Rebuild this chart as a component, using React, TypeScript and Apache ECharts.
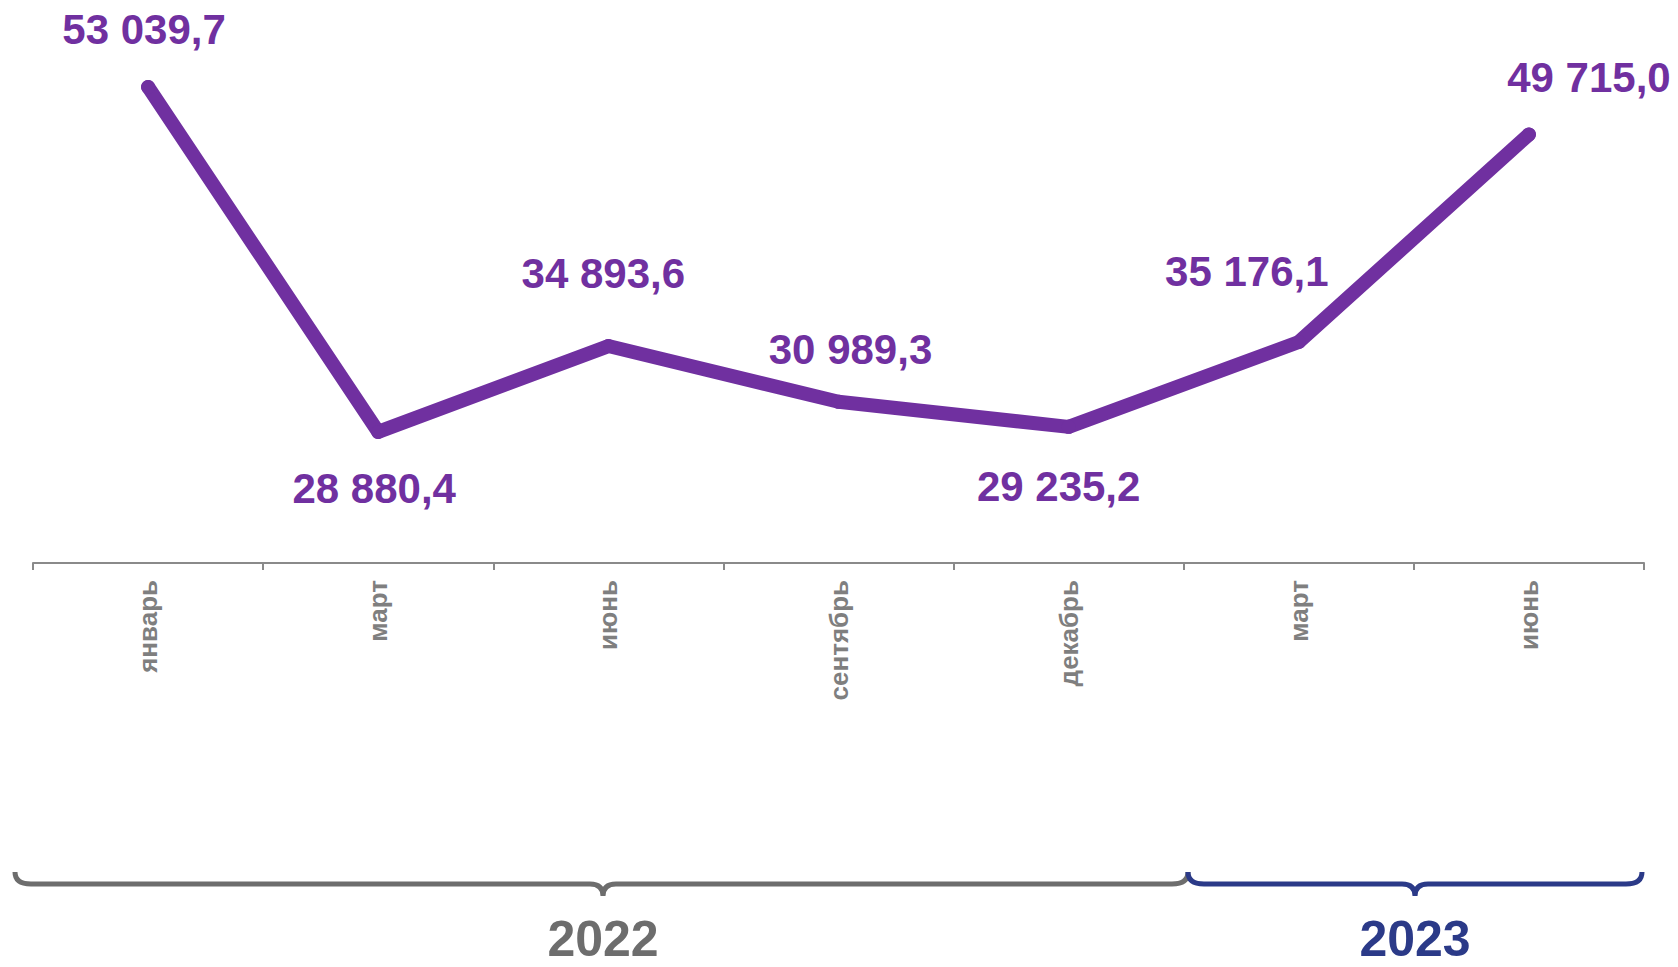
import React, { useEffect, useRef } from "react";
import * as echarts from "echarts";

const months: string[] = ["январь", "март", "июнь", "сентябрь", "декабрь", "март", "июнь"];
const values: number[] = [53039.7, 28880.4, 34893.6, 30989.3, 29235.2, 35176.1, 49715.0];
// label offsets (px) relative to each point, in the same order as values
const labelOffsets: [number, number][] = [
  [-4, -57],
  [-4, 57],
  [-5, -73],
  [12, -52],
  [-10, 60],
  [-52, -71],
  [60, -57],
];
const years: string[] = ["2022", "2023"];

const PURPLE = "#7030A0";
const GREY = "#6d6d6d";
const NAVY = "#2b3a88";

function fmt(v: number): string {
  const [i, d] = v.toFixed(1).split(".");
  return i.replace(/\B(?=(\d{3})+(?!\d))/g, " ") + "," + d;
}

function bracePath(x1: number, x2: number, xm: number, y0: number, y1: number, y2: number): string {
  const r = 16;
  const rt = 13;
  return (
    `M${x1} ${y0} Q${x1} ${y1} ${x1 + r} ${y1} L${xm - rt} ${y1} Q${xm} ${y1} ${xm} ${y2} ` +
    `M${xm} ${y2} Q${xm} ${y1} ${xm + rt} ${y1} L${x2 - r} ${y1} Q${x2} ${y1} ${x2} ${y0}`
  );
}

echarts.graphic.registerShape("brace2022", echarts.graphic.extendPath(bracePath(15, 1188, 603, 872, 884, 896), {}));
echarts.graphic.registerShape("brace2023", echarts.graphic.extendPath(bracePath(1188, 1642, 1415, 872, 884, 896), {}));

export default function App() {
  const ref = useRef<HTMLDivElement>(null);
  useEffect(() => {
    document.body.style.margin = "0";
    document.body.style.overflow = "hidden";
    const chart = echarts.init(ref.current!, null, { renderer: "svg" });
    const font = "'Liberation Sans', Arial, sans-serif";
    chart.setOption({
      animation: false,
      grid: { left: 33, right: 34, top: 59, bottom: 404, containLabel: false },
      xAxis: {
        type: "category",
        data: months,
        boundaryGap: true,
        axisLine: { lineStyle: { color: "#8a8a8a", width: 2 } },
        axisTick: { show: true, length: 7, lineStyle: { color: "#8a8a8a", width: 2 } },
        axisLabel: {
          rotate: 90,
          margin: 17,
          color: "#7f7f7f",
          fontWeight: "bold",
          fontSize: 26,
          fontFamily: font,
        },
      },
      yAxis: {
        type: "value",
        min: 19700,
        max: 55000,
        show: false,
        splitLine: { show: false },
      },
      series: [
        {
          type: "line",
          data: values.map((v, i) => ({
            value: v,
            label: { offset: labelOffsets[i] },
          })),
          symbol: "circle",
          symbolSize: 14,
          itemStyle: { color: PURPLE },
          lineStyle: { color: PURPLE, width: 14, cap: "round", join: "round" },
          label: {
            show: true,
            position: "inside",
            align: "center",
            verticalAlign: "middle",
            color: PURPLE,
            fontWeight: "bold",
            fontSize: 42,
            fontFamily: font,
            formatter: (p: any) => fmt(p.value as number),
          },
        },
      ],
      graphic: [
        {
          type: "brace2022",
          x: 0,
          y: 0,
          style: { stroke: GREY, lineWidth: 5, fill: "none" },
        },
        {
          type: "brace2023",
          x: 0,
          y: 0,
          style: { stroke: NAVY, lineWidth: 5, fill: "none" },
        },
        {
          type: "text",
          x: 603,
          y: 964,
          style: {
            text: years[0],
            fill: GREY,
            font: `bold 50px ${font}`,
            lineHeight: 50,
            textAlign: "center",
            textVerticalAlign: "bottom",
          },
        },
        {
          type: "text",
          x: 1415,
          y: 964,
          style: {
            text: years[1],
            fill: NAVY,
            font: `bold 50px ${font}`,
            lineHeight: 50,
            textAlign: "center",
            textVerticalAlign: "bottom",
          },
        },
      ],
    });
    return () => chart.dispose();
  }, []);
  return <div ref={ref} style={{ width: 1678, height: 967 }} />;
}
